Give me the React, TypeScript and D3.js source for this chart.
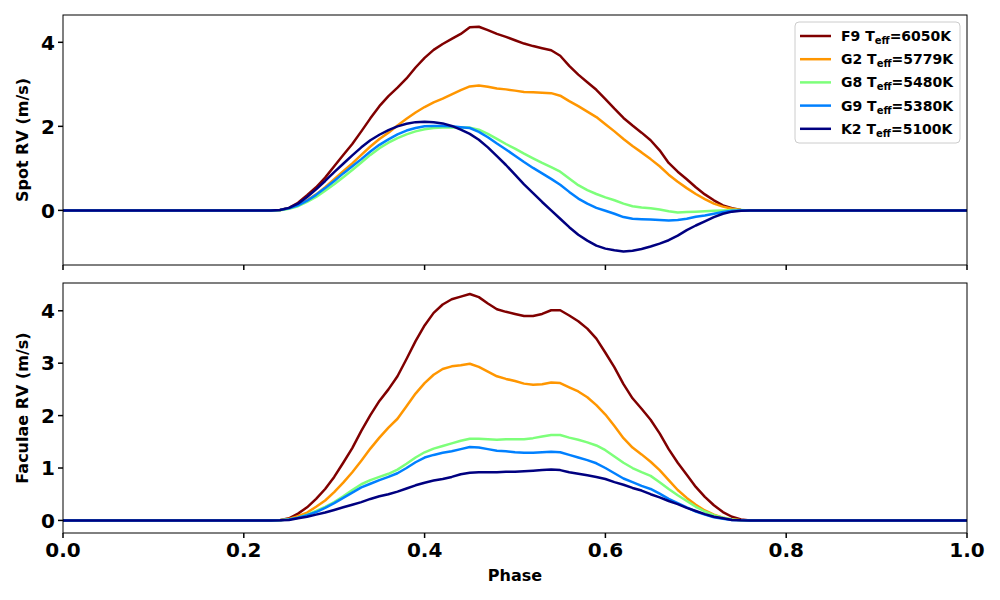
import * as d3 from "d3"

// phase grid (flat zero outside the crossing)
const PHASE = [
  0, 0.23, 0.24, 0.25, 0.26, 0.27, 0.28, 0.29, 0.3, 0.31, 0.32, 0.33, 0.34, 0.35, 0.36, 0.37,
  0.38, 0.39, 0.4, 0.41, 0.42, 0.43, 0.44, 0.45, 0.46, 0.47, 0.48, 0.49, 0.5, 0.51, 0.52, 0.53,
  0.54, 0.55, 0.56, 0.57, 0.58, 0.59, 0.6, 0.61, 0.62, 0.63, 0.64, 0.65, 0.66, 0.67, 0.68, 0.69,
  0.7, 0.71, 0.72, 0.73, 0.74, 0.75, 0.76, 0.77, 1,
]

const STARS = ["F9", "G2", "G8", "G9", "K2"]
const TEFF = ["6050K", "5779K", "5480K", "5380K", "5100K"]
const COLORS = ["#800000", "#ff9600", "#7dff7a", "#0080ff", "#000080"]

// Spot RV (m/s)
const SPOT_F9 = [
  0, 0, 0.01, 0.06, 0.18, 0.36, 0.55, 0.78, 1.05, 1.32, 1.58, 1.88, 2.19, 2.48, 2.72, 2.92,
  3.14, 3.4, 3.63, 3.82, 3.96, 4.08, 4.2, 4.36, 4.37, 4.29, 4.2, 4.13, 4.05, 3.97, 3.91, 3.86,
  3.81, 3.68, 3.44, 3.23, 3.05, 2.87, 2.65, 2.42, 2.2, 2.02, 1.85, 1.67, 1.43, 1.13, 0.92, 0.74,
  0.55, 0.38, 0.24, 0.12, 0.05, 0.01, 0, 0, 0,
]
const SPOT_G2 = [
  0, 0, 0.01, 0.05, 0.12, 0.24, 0.38, 0.55, 0.74, 0.93, 1.12, 1.32, 1.52, 1.7, 1.85, 2.02,
  2.18, 2.33, 2.46, 2.57, 2.66, 2.76, 2.86, 2.95, 2.97, 2.94, 2.9, 2.88, 2.85, 2.82, 2.81, 2.8,
  2.79, 2.73, 2.6, 2.48, 2.35, 2.22, 2.05, 1.88, 1.7, 1.53, 1.38, 1.22, 1.05, 0.85, 0.68, 0.53,
  0.39, 0.27, 0.16, 0.09, 0.04, 0.01, 0, 0, 0,
]
const SPOT_G8 = [
  0, 0, 0.005, 0.04, 0.1, 0.2, 0.32, 0.47, 0.62, 0.79, 0.96, 1.14, 1.32, 1.48, 1.61, 1.72,
  1.81, 1.88, 1.93, 1.96, 1.97, 1.97, 1.97, 1.97, 1.92, 1.82, 1.7, 1.58, 1.47, 1.35, 1.24, 1.13,
  1.03, 0.92, 0.76, 0.6, 0.48, 0.39, 0.31, 0.24, 0.16, 0.1, 0.07, 0.05, 0.02, -0.02, -0.05, -0.04,
  -0.03, -0.02, -0.01, 0, 0.01, 0.01, 0, 0, 0,
]
const SPOT_G9 = [
  0, 0, 0.01, 0.05, 0.12, 0.23, 0.37, 0.53, 0.7, 0.88, 1.05, 1.22, 1.4, 1.56, 1.69, 1.81,
  1.9, 1.96, 2.0, 2.01, 2.01, 2.0, 1.98, 1.96, 1.87, 1.74, 1.59, 1.45, 1.3, 1.15, 1.01, 0.88,
  0.75, 0.61, 0.44, 0.28, 0.16, 0.06, -0.01, -0.08, -0.16, -0.2, -0.21, -0.22, -0.23, -0.24, -0.23, -0.2,
  -0.15, -0.12, -0.08, -0.04, -0.01, 0, 0, 0, 0,
]
const SPOT_K2 = [
  0, 0, 0.01, 0.06, 0.16, 0.32, 0.5, 0.7, 0.91, 1.11, 1.31, 1.5, 1.67, 1.8, 1.91, 2.0,
  2.06, 2.1, 2.11, 2.1, 2.07, 2.01, 1.92, 1.82, 1.68, 1.5, 1.29, 1.08, 0.85, 0.62, 0.41, 0.2,
  0, -0.2, -0.4, -0.58, -0.72, -0.84, -0.91, -0.95, -0.98, -0.96, -0.92, -0.86, -0.79, -0.71, -0.6, -0.47,
  -0.36, -0.26, -0.16, -0.08, -0.03, -0.01, 0, 0, 0,
]

// Faculae RV (m/s)
const FAC_F9 = [
  0, 0, 0.005, 0.04, 0.13, 0.25, 0.41, 0.6, 0.83, 1.1, 1.38, 1.71, 2.01, 2.28, 2.5, 2.75,
  3.08, 3.42, 3.72, 3.96, 4.12, 4.22, 4.27, 4.32, 4.26, 4.14, 4.03, 3.98, 3.94, 3.9, 3.9, 3.94,
  4.01, 4.01, 3.91, 3.8, 3.66, 3.47, 3.2, 2.92, 2.6, 2.33, 2.13, 1.92, 1.66, 1.36, 1.1, 0.87,
  0.64, 0.45, 0.29, 0.16, 0.07, 0.02, 0, 0, 0,
]
const FAC_G2 = [
  0, 0, 0.005, 0.03, 0.08, 0.15, 0.26, 0.38, 0.54, 0.72, 0.92, 1.14, 1.37, 1.58, 1.77, 1.94,
  2.18, 2.42, 2.62, 2.78, 2.89, 2.94, 2.96, 2.99, 2.93, 2.84, 2.75, 2.7, 2.66, 2.61, 2.59, 2.6,
  2.63, 2.62, 2.54, 2.46, 2.35, 2.2, 2.02, 1.8, 1.57, 1.39, 1.26, 1.12, 0.96, 0.77, 0.58, 0.43,
  0.3, 0.19, 0.11, 0.05, 0.02, 0.005, 0, 0, 0,
]
const FAC_G8 = [
  0, 0, 0.003, 0.02, 0.05, 0.11, 0.18, 0.26, 0.35, 0.46, 0.58, 0.69, 0.77, 0.83, 0.89, 0.97,
  1.08, 1.2, 1.3, 1.37, 1.42, 1.47, 1.52, 1.56, 1.56, 1.55, 1.54, 1.55, 1.55, 1.55, 1.57, 1.6,
  1.63, 1.63, 1.58, 1.54, 1.49, 1.43, 1.34, 1.22, 1.1, 1.0, 0.92, 0.85, 0.73, 0.6, 0.48, 0.37,
  0.26, 0.17, 0.1, 0.05, 0.02, 0.005, 0, 0, 0,
]
const FAC_G9 = [
  0, 0, 0.003, 0.02, 0.05, 0.1, 0.16, 0.24, 0.33, 0.43, 0.53, 0.63, 0.7, 0.77, 0.83, 0.9,
  1.0, 1.11, 1.2, 1.25, 1.29, 1.32, 1.36, 1.4, 1.39, 1.36, 1.33, 1.32, 1.3, 1.29, 1.29, 1.3,
  1.31, 1.3, 1.25, 1.2, 1.15, 1.09, 1.0, 0.9, 0.8, 0.73, 0.66, 0.6, 0.51, 0.41, 0.33, 0.25,
  0.17, 0.11, 0.06, 0.03, 0.01, 0.003, 0, 0, 0,
]
const FAC_K2 = [
  0, 0, 0.002, 0.01, 0.04, 0.07, 0.11, 0.15, 0.2, 0.25, 0.3, 0.35, 0.41, 0.46, 0.5, 0.55,
  0.61, 0.67, 0.72, 0.76, 0.79, 0.83, 0.88, 0.91, 0.92, 0.92, 0.92, 0.93, 0.93, 0.94, 0.95, 0.96,
  0.97, 0.96, 0.92, 0.89, 0.86, 0.83, 0.79, 0.73, 0.68, 0.62, 0.57, 0.5, 0.44, 0.37, 0.31, 0.24,
  0.18, 0.12, 0.07, 0.04, 0.01, 0.003, 0, 0, 0,
]

const X_TICKS = [0, 0.2, 0.4, 0.6, 0.8, 1.0]
const SPOT_TICKS = [0, 2, 4]
const FAC_TICKS = [0, 1, 2, 3, 4]

const FONT = "'DejaVu Sans', sans-serif"

const x = d3.scaleLinear().domain([0, 1]).range([63, 967])

interface PanelProps {
  series: number[][]
  yDomain: [number, number]
  top: number
  bottom: number
  yTicks: number[]
  yLabel: string
  showXLabels: boolean
}

function Panel({ series, yDomain, top, bottom, yTicks, yLabel, showXLabels }: PanelProps) {
  const y = d3.scaleLinear().domain(yDomain).range([bottom, top])
  const line = d3
    .line<number>()
    .x((_, i) => x(PHASE[i]))
    .y((d) => y(d))
  const [x0, x1] = x.range()
  const mid = (top + bottom) / 2

  return (
    <g>
      <defs>
        <clipPath id={`clip-${top}`}>
          <rect x={x0} y={top} width={x1 - x0} height={bottom - top} />
        </clipPath>
      </defs>
      <g clipPath={`url(#clip-${top})`}>
        {series.map((s, i) => (
          <path
            key={STARS[i]}
            d={line(s) || ""}
            fill="none"
            stroke={COLORS[i]}
            strokeWidth={2.5}
            strokeLinejoin="round"
          />
        ))}
      </g>
      <rect x={x0} y={top} width={x1 - x0} height={bottom - top} fill="none" stroke="black" strokeWidth={1} />

      {/* x ticks */}
      {X_TICKS.map((t) => (
        <g key={t}>
          <line x1={x(t)} x2={x(t)} y1={bottom} y2={bottom + 5} stroke="black" strokeWidth={1.5} />
          {showXLabels && (
            <text x={x(t)} y={bottom + 24} textAnchor="middle" fontFamily={FONT} fontWeight="bold" fontSize={20}>
              {t.toFixed(1)}
            </text>
          )}
        </g>
      ))}

      {/* y ticks */}
      {yTicks.map((t) => (
        <g key={t}>
          <line x1={x0 - 5} x2={x0} y1={y(t)} y2={y(t)} stroke="black" strokeWidth={1.5} />
          <text x={x0 - 8} y={y(t)} dy="0.36em" textAnchor="end" fontFamily={FONT} fontWeight="bold" fontSize={20}>
            {t}
          </text>
        </g>
      ))}

      <text
        transform={`translate(28,${mid}) rotate(-90)`}
        textAnchor="middle"
        fontFamily={FONT}
        fontWeight="bold"
        fontSize={16}
      >
        {yLabel}
      </text>
    </g>
  )
}

function Legend() {
  const left = 795
  const topY = 22
  const rowH = 23.2
  return (
    <g>
      <rect x={left} y={topY} width={165} height={121} rx={4} fill="white" fillOpacity={0.8} stroke="#cccccc" strokeWidth={1} />
      {STARS.map((s, i) => {
        const cy = topY + 14 + i * rowH
        return (
          <g key={s}>
            <line x1={left + 5} x2={left + 36} y1={cy} y2={cy} stroke={COLORS[i]} strokeWidth={2.5} />
            <text x={left + 46} y={cy} dy="0.36em" fontFamily={FONT} fontWeight="bold" fontSize={14}>
              {`${s} T`}
              <tspan fontSize={10} dy={3}>eff</tspan>
              <tspan dy={-3}>{`=${TEFF[i]}`}</tspan>
            </text>
          </g>
        )
      })}
    </g>
  )
}

export default function App() {
  return (
    <svg width={1000} height={600} style={{ position: "absolute", left: 0, top: 0, background: "white" }}>
      <rect width={1000} height={600} fill="white" />
      <Panel
        series={[SPOT_F9, SPOT_G2, SPOT_G8, SPOT_G9, SPOT_K2]}
        yDomain={[-1.3, 4.65]}
        top={15}
        bottom={265}
        yTicks={SPOT_TICKS}
        yLabel="Spot RV (m/s)"
        showXLabels={false}
      />
      <Panel
        series={[FAC_F9, FAC_G2, FAC_G8, FAC_G9, FAC_K2]}
        yDomain={[-0.24, 4.53]}
        top={283}
        bottom={533}
        yTicks={FAC_TICKS}
        yLabel="Faculae RV (m/s)"
        showXLabels={true}
      />
      <Legend />
      <text x={515} y={581} textAnchor="middle" fontFamily={FONT} fontWeight="bold" fontSize={16}>
        Phase
      </text>
    </svg>
  )
}
